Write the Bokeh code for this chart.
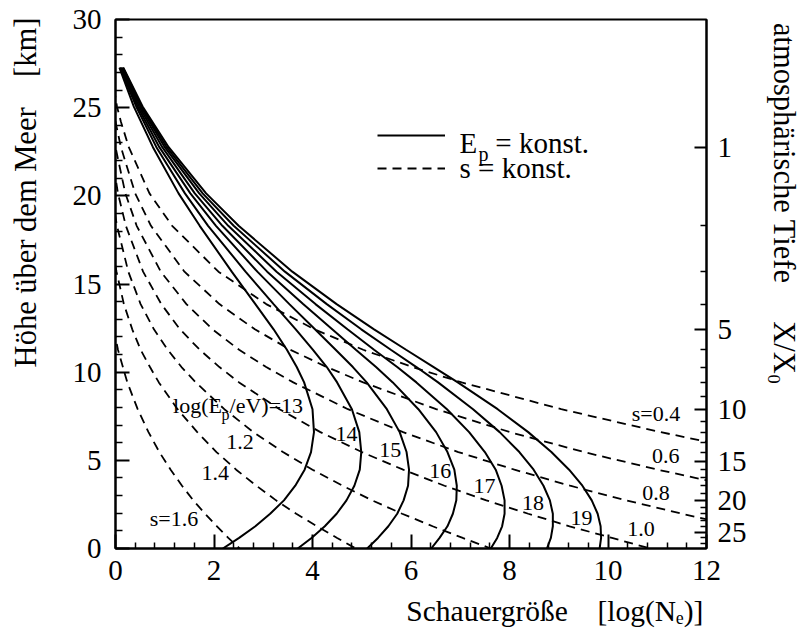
import math
from bokeh.plotting import figure
from bokeh.models import Label, LinearAxis, FixedTicker, Range1d, Legend, LegendItem
from bokeh.embed import file_html
from bokeh.resources import INLINE

# ------------------------------------------------------------------ data
# heights [km] shared by the constant-energy curves (solid)
H_SOLID = [27.27, 25.07, 22.76, 20.14, 18.30, 15.70, 13.86, 12.43, 11.27, 10.29,
           9.42, 7.90, 6.60, 5.47, 4.47, 3.56, 2.73, 1.97, 1.26, 0.60, 0.00]
# log(N_e) of the solid curves, log(E_p/eV) = 13 ... 19
LOGN_E13 = [0.08, 0.37, 0.76, 1.28, 1.71, 2.36, 2.84, 3.21, 3.48, 3.68, 3.83, 4.00, 4.03, 3.97, 3.84, 3.65, 3.42, 3.14, 2.84, 2.51, 2.18]
LOGN_E14 = [0.09, 0.42, 0.83, 1.41, 1.88, 2.64, 3.21, 3.66, 4.01, 4.29, 4.50, 4.80, 4.95, 4.99, 4.96, 4.85, 4.69, 4.49, 4.25, 3.98, 3.70]
LOGN_E15 = [0.11, 0.45, 0.89, 1.52, 2.04, 2.88, 3.53, 4.05, 4.47, 4.82, 5.10, 5.51, 5.77, 5.91, 5.96, 5.94, 5.85, 5.72, 5.54, 5.33, 5.11]
LOGN_E16 = [0.12, 0.48, 0.95, 1.61, 2.17, 3.08, 3.81, 4.40, 4.88, 5.29, 5.63, 6.15, 6.51, 6.74, 6.88, 6.93, 6.92, 6.85, 6.74, 6.58, 6.41]
LOGN_E17 = [0.14, 0.51, 1.00, 1.70, 2.29, 3.27, 4.06, 4.71, 5.25, 5.72, 6.11, 6.73, 7.18, 7.50, 7.72, 7.84, 7.90, 7.90, 7.85, 7.75, 7.62]
LOGN_E18 = [0.15, 0.53, 1.04, 1.77, 2.40, 3.44, 4.29, 4.99, 5.59, 6.11, 6.55, 7.26, 7.80, 8.20, 8.49, 8.69, 8.82, 8.88, 8.88, 8.84, 8.76]
LOGN_E19 = [0.16, 0.55, 1.08, 1.84, 2.50, 3.59, 4.49, 5.25, 5.90, 6.46, 6.95, 7.76, 8.38, 8.85, 9.21, 9.48, 9.67, 9.79, 9.85, 9.86, 9.83]

# constant-age curves (dashed): heights [km] and log(N_e)
S04_H = [26.08, 25.07, 24.20, 22.76, 20.14, 18.30, 15.70, 13.86, 12.43, 11.27, 10.29, 9.42, 7.90, 6.60, 6.01]
S04_LOGN = [-0.03, 0.03, 0.11, 0.27, 0.69, 1.15, 2.09, 3.06, 4.04, 5.03, 6.03, 7.03, 9.05, 11.07, 12.08]
S06_H = [25.07, 24.20, 22.76, 20.14, 18.30, 15.70, 13.86, 12.43, 11.27, 10.29, 9.42, 7.90, 6.60, 5.47, 4.47, 4.01, 3.56]
S06_LOGN = [-0.04, 0.00, 0.11, 0.40, 0.72, 1.40, 2.11, 2.83, 3.55, 4.29, 5.03, 6.51, 8.01, 9.51, 11.01, 11.77, 12.52]
S08_H = [23.44, 22.76, 20.14, 18.30, 15.70, 13.86, 12.43, 11.27, 10.29, 9.42, 7.90, 6.60, 5.47, 4.47, 3.56, 2.73, 1.97, 1.61]
S08_LOGN = [-0.03, 0.00, 0.20, 0.43, 0.92, 1.44, 1.97, 2.51, 3.06, 3.61, 4.72, 5.84, 6.96, 8.10, 9.23, 10.37, 11.50, 12.07]
S10_H = [21.58, 20.14, 18.30, 15.70, 13.86, 12.43, 11.27, 10.29, 9.42, 7.90, 6.60, 5.47, 4.47, 3.56, 2.73, 1.97, 1.26, 0.60, 0.00]
S10_LOGN = [-0.03, 0.05, 0.21, 0.56, 0.93, 1.31, 1.71, 2.11, 2.51, 3.33, 4.16, 5.00, 5.84, 6.68, 7.53, 8.38, 9.22, 10.08, 10.86]
S12_H = [18.97, 18.30, 15.70, 13.86, 12.43, 11.27, 10.29, 9.42, 7.90, 6.60, 5.47, 4.47, 3.56, 2.73, 1.97, 1.26, 0.60, 0.00]
S12_LOGN = [-0.01, 0.03, 0.26, 0.51, 0.78, 1.06, 1.34, 1.63, 2.21, 2.80, 3.40, 4.00, 4.61, 5.21, 5.82, 6.44, 7.05, 7.62]
S14_H = [16.03, 15.70, 13.86, 12.43, 11.27, 10.29, 9.42, 7.90, 6.60, 5.47, 4.47, 3.56, 2.73, 1.97, 1.26, 0.60, 0.00]
S14_LOGN = [0.00, 0.02, 0.17, 0.34, 0.51, 0.70, 0.88, 1.26, 1.66, 2.05, 2.45, 2.86, 3.26, 3.67, 4.09, 4.50, 4.88]
S16_H = [12.43, 11.83, 11.27, 10.29, 9.42, 7.90, 6.60, 5.47, 4.47, 3.56, 2.73, 1.97, 1.26, 0.60, 0.00]
S16_LOGN = [-0.04, 0.01, 0.05, 0.15, 0.24, 0.45, 0.67, 0.89, 1.12, 1.35, 1.58, 1.82, 2.06, 2.29, 2.52]

X_TICKS = [0, 2, 4, 6, 8, 10, 12]
Y_TICKS = [0, 5, 10, 15, 20, 25, 30]
DEPTH_MAJOR = [1, 5, 10, 15, 20, 25]          # X/X0 labels on the right axis
DEPTH_ALL = list(range(1, 28))                 # X/X0 tick marks

# ------------------------------------------------------------------ helpers
FONT = "Liberation Serif"
FL, FT, FW, FH = 115, 19, 596, 529
W, H = 803, 636
NB = "\u00a0"


def dx(px):
    return (px - FL) * 12.0 / FW


def dy(py):
    return (FT + FH - py) * 30.0 / FH


X0 = 37.1  # g/cm^2


def height_of_depth(d):
    """atmospheric depth (in X0) -> height [km], Linsley standard atmosphere"""
    X = X0 * d
    if X <= 271.7:
        return -6.3614 * math.log((X - 0.61289) / 1305.5948)
    if X <= 631.1:
        return -8.7815 * math.log((X + 94.919) / 1144.9069)
    return -9.9418 * math.log((X + 186.5562) / 1222.6562)


# ------------------------------------------------------------------ figure
p = figure(width=W, height=H, x_range=Range1d(0, 12), y_range=Range1d(0, 30),
           output_backend="svg", toolbar_location=None,
           min_border_left=FL, min_border_right=W - FL - FW,
           min_border_top=FT, min_border_bottom=H - FT - FH)
p.xgrid.visible = False
p.ygrid.visible = False
p.outline_line_color = "black"
p.outline_line_width = 2
p.background_fill_color = "white"
p.border_fill_color = "white"

# axes
x_minor = [round(i * 0.4, 2) for i in range(31) if i % 5 != 0]
p.xaxis.ticker = FixedTicker(ticks=X_TICKS, minor_ticks=x_minor)
y_minor = [v for v in range(31) if v % 5 != 0]
p.yaxis.ticker = FixedTicker(ticks=Y_TICKS, minor_ticks=y_minor)

dep_major_h = [height_of_depth(d) for d in DEPTH_MAJOR]
dep_minor_h = [height_of_depth(d) for d in DEPTH_ALL if d not in DEPTH_MAJOR]
right = LinearAxis(ticker=FixedTicker(ticks=dep_major_h, minor_ticks=dep_minor_h),
                   major_label_overrides={h: str(d) for h, d in zip(dep_major_h, DEPTH_MAJOR)})
p.add_layout(right, "right")

xax, yax = p.xaxis[0], p.yaxis[0]
for ax, tin, tmin, stand, lstand, lsize in [(xax, 14, 6, 12, 12, "29.5px"),
                                            (yax, 14, 7, 14, 27, "30.5px"),
                                            (right, 12, 6, 11, 17, "30.5px")]:
    ax.axis_line_color = "black"
    ax.axis_line_width = 2
    ax.major_tick_line_color = "black"
    ax.minor_tick_line_color = "black"
    ax.major_tick_line_width = 2
    ax.minor_tick_line_width = 1.5
    ax.major_tick_in = tin
    ax.major_tick_out = 0
    ax.minor_tick_in = tmin
    ax.minor_tick_out = 0
    ax.major_label_text_font = FONT
    ax.major_label_text_font_size = "29px"
    ax.major_label_text_color = "black"
    ax.major_label_standoff = stand
    ax.axis_label_text_font = FONT
    ax.axis_label_text_font_size = lsize
    ax.axis_label_text_font_style = "normal"
    ax.axis_label_text_color = "black"
    ax.axis_label_standoff = lstand

# axis titles (non-breaking spaces keep the wide gaps and offsets of the original)
xax.axis_label = NB * 39 + "Schauergröße" + NB * 4 + "[log(N\u2091)]"
yax.axis_label = NB * 24 + "Höhe über dem Meer" + NB * 4 + "[km]"
right.axis_label = "atmosphärische Tiefe" + NB * 5 + "X/X\u2080" + NB * 21

# curves
solid = [LOGN_E13, LOGN_E14, LOGN_E15, LOGN_E16, LOGN_E17, LOGN_E18, LOGN_E19]
solid_r = [p.line(x=xs, y=H_SOLID, line_color="black", line_width=2) for xs in solid]

dashed = [(S04_LOGN, S04_H), (S06_LOGN, S06_H), (S08_LOGN, S08_H), (S10_LOGN, S10_H),
          (S12_LOGN, S12_H), (S14_LOGN, S14_H), (S16_LOGN, S16_H)]
dashed_r = [p.line(x=xs, y=hs, line_color="black", line_width=1.8, line_dash="9 6") for xs, hs in dashed]

# legend keys
legend = Legend(items=[LegendItem(label="", renderers=[solid_r[0]]),
                       LegendItem(label="", renderers=[dashed_r[0]])],
                location=(377 - FL, FT + FH - 178), orientation="vertical",
                glyph_width=68, glyph_height=20, label_text_font_size="10px",
                label_height=20, label_width=0, label_standoff=0, spacing=13,
                padding=0, margin=0, border_line_alpha=0, background_fill_alpha=0)
p.add_layout(legend)


def lab(px, py, text, size, align="left"):
    """py is the vertical middle of the text line, in picture pixels"""
    p.add_layout(Label(x=dx(px), y=dy(py), text=text, text_font=FONT,
                       text_font_size=f"{size}px", text_align=align,
                       text_baseline="middle", text_color="black"))


# legend texts
lab(462, 142, "E", 29)
lab(481, 153, "p", 20)
lab(498, 142, "= konst.", 29)
lab(462, 167.5, "s = konst.", 29)

# curve labels
lab(173, 405, "log(E", 22)
lab(222, 414, "p", 16)
lab(230, 405, "/eV)=13", 22)
for txt, (cx, cy) in zip(["14", "15", "16", "17", "18", "19"],
                         [(348, 433), (392, 449.5), (442.5, 470.5), (487, 485.5), (536, 502.5), (585, 517.5)]):
    lab(cx, cy, txt, 22, align="center")
for txt, (cx, cy) in zip(["s=0.4", "0.6", "0.8", "1.0", "1.2", "1.4", "s=1.6"],
                         [(660, 412.5), (670, 455.5), (660, 492.5), (645, 528.5),
                          (240.5, 441.5), (215.5, 472.5), (174, 517.5)]):
    lab(cx, cy, txt, 22, align="center")

open("out.html", "w").write(file_html(p, INLINE))
